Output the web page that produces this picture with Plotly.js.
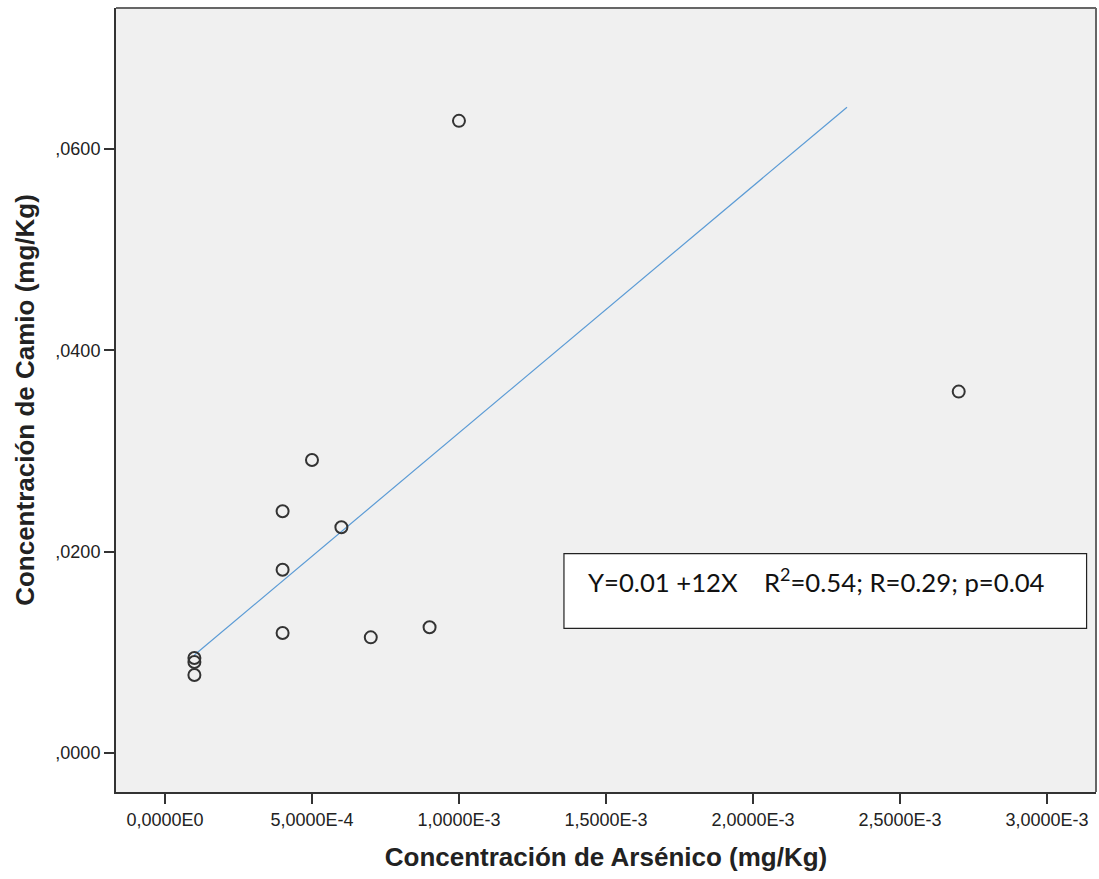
<!DOCTYPE html>
<html>
<head>
<meta charset="utf-8">
<script src="https://cdn.plot.ly/plotly-3.0.1.min.js"></script>
<style>html,body{margin:0;padding:0;background:#fff;}#chart{width:1099px;height:879px;}</style>
</head>
<body>
<div id="chart"></div>
<script>
// Data
const arsenic = [0.0001, 0.0001, 0.0001, 0.0004, 0.0004, 0.0004, 0.0005, 0.0006, 0.0007, 0.0009, 0.0010, 0.0027];
const cadmium = [0.00944, 0.00904, 0.00775, 0.01192, 0.01821, 0.02401, 0.02911, 0.02242, 0.01149, 0.01249, 0.06279, 0.0359];
const fitX = [0.0001, 0.00232];
const fitY = [0.00974, 0.06415];
const xTickVals = [0, 0.0005, 0.0010, 0.0015, 0.0020, 0.0025, 0.0030];
const xTickText = ["0,0000E0", "5,0000E-4", "1,0000E-3", "1,5000E-3", "2,0000E-3", "2,5000E-3", "3,0000E-3"];
const yTickVals = [0, 0.02, 0.04, 0.06];
const yTickText = [",0000", ",0200", ",0400", ",0600"];
const xTitle = "Concentración de Arsénico (mg/Kg)";
const yTitle = "Concentración de Camio (mg/Kg)";
const statsText = "Y=0.01 +12X\u00A0\u00A0\u00A0\u00A0R<sup>2</sup>=0.54; R=0.29; p=0.04";

const traces = [
  {
    x: fitX, y: fitY, type: 'scatter', mode: 'lines',
    line: {color: '#5b9bd5', width: 1.2}, hoverinfo: 'skip', showlegend: false
  },
  {
    x: arsenic, y: cadmium, type: 'scatter', mode: 'markers',
    marker: {symbol: 'circle-open', size: 12, color: '#333333', line: {width: 2, color: '#333333'}},
    showlegend: false
  }
];

const sans = '"Liberation Sans", Arial, sans-serif';
const tickFont = {family: sans, size: 18, color: '#222'};
const titleFont = {family: sans, size: 26, color: '#222', weight: 'bold'};

const layout = {
  width: 1099, height: 879,
  margin: {l: 116, r: 3, t: 8, b: 87},
  paper_bgcolor: '#ffffff',
  plot_bgcolor: '#f0f0f0',
  showlegend: false,
  xaxis: {
    range: [-0.0001667, 0.003167],
    tickvals: xTickVals, ticktext: xTickText,
    ticks: 'outside', ticklen: 10, tickwidth: 2, tickcolor: '#333',
    showgrid: false, zeroline: false,
    showline: true, linecolor: '#333', linewidth: 2,
    tickfont: tickFont,
    title: {text: xTitle, font: titleFont, standoff: 19}
  },
  yaxis: {
    range: [-0.00387, 0.0740],
    tickvals: yTickVals, ticktext: yTickText,
    ticks: 'outside', ticklen: 10, tickwidth: 2, tickcolor: '#333',
    showgrid: false, zeroline: false,
    showline: true, linecolor: '#333', linewidth: 2,
    tickfont: tickFont,
    title: {text: yTitle, font: titleFont, standoff: 13}
  },
  shapes: [
    {type: 'line', xref: 'paper', yref: 'paper', x0: 0, x1: 1, y0: 1, y1: 1, line: {color: '#666', width: 2}},
    {type: 'line', xref: 'paper', yref: 'paper', x0: 1, x1: 1, y0: 0, y1: 1, line: {color: '#666', width: 2}},
    {type: 'rect', xref: 'paper', yref: 'paper', x0: 0.4571, x1: 0.9904, y0: 0.2088, y1: 0.3040,
     fillcolor: '#ffffff', line: {color: '#222', width: 1.2}, layer: 'above'}
  ],
  annotations: [
    {xref: 'paper', yref: 'paper', x: 0.4794, y: 0.2705, xanchor: 'left', yanchor: 'middle',
     text: statsText, showarrow: false,
     font: {family: 'Lato, "Liberation Sans", sans-serif', size: 25.7, color: '#111'}}
  ]
};

Plotly.newPlot('chart', traces, layout, {displayModeBar: false, staticPlot: true});
</script>
</body>
</html>
